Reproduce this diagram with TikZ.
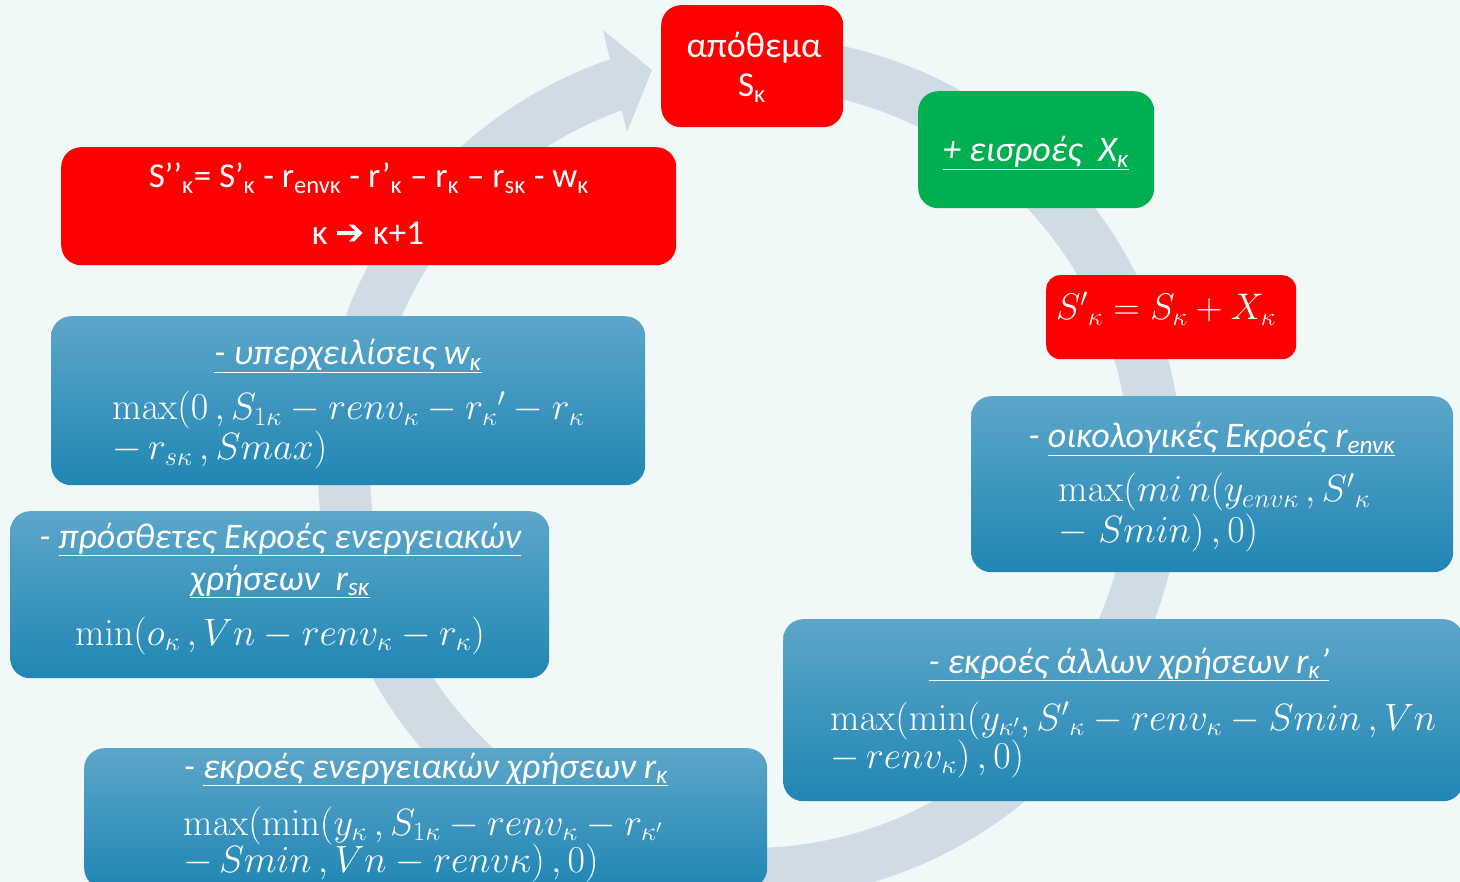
\documentclass[tikz,border=0pt]{standalone}
\usepackage{fix-cm}
\usepackage[no-math]{fontspec}
\newfontfamily\calibri{Carlito}
\newfontfamily\dejavu{DejaVu Sans}
\usetikzlibrary{calc}
\definecolor{bg}{RGB}{240,248,248}
\definecolor{ringc}{RGB}{207,220,230}
\definecolor{redbox}{RGB}{255,0,0}
\definecolor{greenbox}{RGB}{0,176,80}
\definecolor{bluetop}{RGB}{92,166,201}
\definecolor{bluebot}{RGB}{32,134,180}
\newcommand{\sbs}[1]{\textsubscript{#1}}
\newcommand{\twolines}[3]{\vtop{\baselineskip=#1pt\lineskiplimit=-100pt\lineskip=0pt\hbox{#2}\hbox{#3}}}
\newcommand{\twolinesc}[3]{\vtop{\baselineskip=#1pt\lineskiplimit=-100pt\lineskip=0pt\hbox to 0pt{\hss#2\hss}\hbox to 0pt{\hss#3\hss}}}
\tikzset{
  box/.style={rounded corners=20pt, inner sep=0pt, anchor=north west, draw=none},
  redb/.style={box, fill=redbox},
  greenb/.style={box, fill=greenbox},
  blueb/.style={box, top color=bluetop, bottom color=bluebot},
  txt/.style={text=white, inner sep=0pt, anchor=base, font=\calibri\fontsize{35}{40}\selectfont},
  head/.style={text=white, inner sep=0pt, anchor=base, font=\calibri\itshape\fontsize{36}{42}\selectfont},
  frm/.style={text=white, inner sep=0pt, anchor=base west, font=\fontsize{38}{38}\selectfont},
}
\begin{document}
\begin{tikzpicture}[x=1pt,y=-1pt]
\useasboundingbox[fill=bg] (0,0) rectangle (1460,882);
% circular arrow
\draw[ringc, line width=52pt] (750,468) ++(-85:406) arc[start angle=-85, end angle=251, radius=406];
\fill[ringc] (652,70) -- (603,30) -- (627,132) -- cycle;
% boxes
\node[redb, minimum width=182pt, minimum height=122pt] (apo) at (661,5) {};
\node[greenb, minimum width=236pt, minimum height=117pt] (eis) at (918,91) {};
\node[redb, minimum width=250pt, minimum height=84pt, rounded corners=14pt] (sp) at (1046,275) {};
\node[redb, minimum width=615pt, minimum height=118pt] (spp) at (61,147) {};
\node[blueb, minimum width=594pt, minimum height=169pt] (upe) at (51,316) {};
\node[blueb, minimum width=482pt, minimum height=176pt] (oik) at (971,396) {};
\node[blueb, minimum width=539pt, minimum height=167pt] (pro) at (10,511) {};
\node[blueb, minimum width=680pt, minimum height=182pt] (all) at (783,619) {};
\node[blueb, minimum width=683pt, minimum height=140pt] (ene) at (84,748) {};
% texts
\node[txt, font=\calibri\fontsize{36}{40}\selectfont] (apo1) at (754,58) {απόθεμα};
\node[txt] (apo2) at (752,97) {S\sbs{κ}};
\node[txt, font=\calibri\itshape\fontsize{36}{42}\selectfont] (eis1) at (1036,162) {\underline{+ εισροές\ \ X\sbs{κ}}};
\node[frm, anchor=base, font=\fontsize{37}{40}\selectfont] (sp1) at (1166,320) {${S'}_{\kappa}=S_{\kappa}+X_{\kappa}$};
\node[txt] (spp1) at (369,188) {S’’\sbs{κ}= S’\sbs{κ} - r\sbs{envκ} - r’\sbs{κ} – r\sbs{κ} – r\sbs{sκ} - w\sbs{κ}};
\node[txt] (spp2) at (368,245) {κ {\dejavu\bfseries ➔} κ+1};
% upe
\node[head] (upeh) at (348,365) {\underline{- υπερχειλίσεις w\sbs{κ}}};
\node[frm] (upe1) at (112,420) {\twolines{40}{$\max(0\,,S_{1\kappa}-renv_{\kappa}-{r_{\kappa}}'-r_{\kappa}$}{$-\,r_{s\kappa}\,,Smax)$}};
% oik
\node[head] (oikh) at (1212,448) {- \underline{οικολογικές Εκροές r\sbs{envκ}}};
\node[frm] (oik1) at (1058,502) {\twolines{40}{$\max(mi\,n(y_{env\kappa}\,,{S'}_{\kappa}$}{$-\;Smin)\,,0)$}};
% pro
\node[head] (proh) at (280,548) {\twolinesc{42}{- \underline{πρόσθετες Εκροές ενεργειακών}}{\underline{χρήσεων\ \ r\sbs{sκ}}}};
\node[frm, anchor=base] (pro1) at (280,645) {$\min(o_{\kappa}\,,Vn-renv_{\kappa}-r_{\kappa})$};
% all
\node[head] (allh) at (1129,673) {\underline{- εκροές άλλων χρήσεων r\sbs{κ}’}};
\node[frm] (all1) at (830,730) {\twolines{38}{$\max(\min(y_{\kappa'},{S'}_{\kappa}-renv_{\kappa}-Smin\,,Vn$}{$-\,renv_{\kappa})\,,0)$}};
% ene
\node[head] (eneh) at (426,778) {- \underline{εκροές ενεργειακών χρήσεων r\sbs{κ}}};
\node[frm] (ene1) at (183,835) {\twolines{37}{$\max(\min(y_{\kappa}\,,S_{1\kappa}-renv_{\kappa}-r_{\kappa'}$}{$-\,Smin\,,Vn-renv\kappa)\,,0)$}};
\end{tikzpicture}
\end{document}
